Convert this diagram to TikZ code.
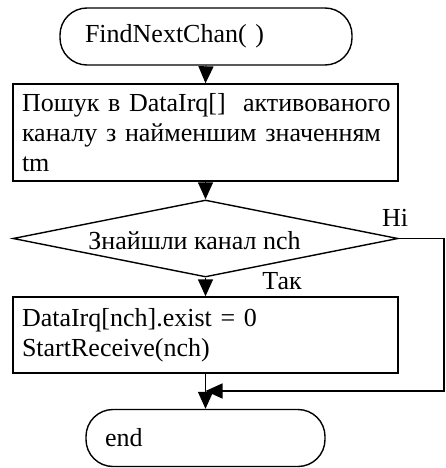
\documentclass[tikz,border=0pt]{standalone}
\usepackage{fontspec}
\setmainfont{Liberation Serif}
\usetikzlibrary{shapes.geometric,arrows.meta}
\begin{document}
\begin{tikzpicture}[x=1pt,y=-1pt,line width=1.4pt,
  every node/.style={font=\fontsize{26}{30}\selectfont},
  term/.style={draw,rounded corners=27pt,minimum height=57pt,inner ysep=0pt,align=left},
  procbox/.style={draw,minimum width=385pt,inner xsep=9pt,text width=367pt,align=left},
  decision/.style={draw,diamond,minimum width=385pt,minimum height=77pt,inner sep=0pt,aspect=5},
  arr/.style={-{Triangle[width=15pt,length=17pt]}}]
\useasboundingbox (0,0) rectangle (446,468);

% blocks
\node[term,minimum width=292pt,inner xsep=25pt,text width=242pt] (start) at (206,36.5) {FindNextChan( )};
\node[procbox,minimum height=97pt] (search) at (205.5,132.5)
  {\mbox{Пошук в DataIrq[]\ \ активованого}\\\mbox{каналу з найменшим значенням}\\tm};
\node[decision,label={[xshift=-11pt,yshift=-2pt]center:Знайшли канал nch}] (found) at (205.5,238.5) {};
\node[procbox,minimum height=76pt] (recv) at (205.5,335)
  {DataIrq[nch].exist = 0\\StartReceive(nch)};
\node[term,minimum width=239pt,inner xsep=19pt,text width=201pt] (stop) at (205.5,438) {end};

% branch labels
\node (no) at (395,218) {Ні};
\node (yes) at (282,281) {Так};

% helper points for the "no" bypass
\coordinate (merge) at (205.5,391);
\coordinate (corner) at (444,391);

% connectors
\draw[arr] (start.south) -- (search.north);
\draw[arr] (search.south) -- (found.north);
\draw[arr] (found.south) -- (recv.north);
\draw[arr] (recv.south) -- (stop.north);
\draw[arr] (found.east) -- (found.east -| corner) -- (corner) -- (merge);
\end{tikzpicture}
\end{document}
